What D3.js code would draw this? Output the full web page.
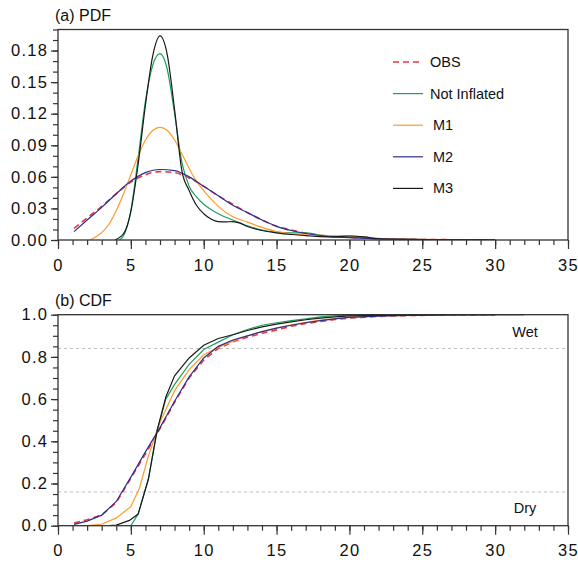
<!DOCTYPE html>
<html><head><meta charset="utf-8">
<script src="https://cdn.jsdelivr.net/npm/d3@7"></script>
<style>
body{margin:0;background:#fff;}
text{font-family:"Liberation Sans",Arial,Helvetica,sans-serif;fill:#111;}
</style></head>
<body><svg id="c" width="578" height="562"></svg>
<script>
// ---------- DATA ----------
const seriesNames = ["OBS","Not Inflated","M1","M2","M3"];
const seriesColors = ["#e8363f","#1e9e5e","#fe9a2a","#2c2f8e","#1a1a1a"];

const xTicks = [0,5,10,15,20,25,30,35];
const pdfTicks = [0,0.03,0.06,0.09,0.12,0.15,0.18];
const cdfTicks = [0,0.2,0.4,0.6,0.8,1.0];
const thresholds = [0.16,0.84];
const thresholdLabels = ["Dry","Wet"];

// PDF
const obsPdfX = [1.1,2,3,4,5,6,7,8,9,10,11,12,13,14,15,16,17,18,19,20,22,24,26,28,30];
const obsPdfY = [.011,.021,.032,.044,.055,.062,.065,.064,.059,.051,.042,.034,.026,.019,.013,.0095,.0065,.0045,.0033,.0024,.0013,.0007,.0004,.0002,.0001];
const m2PdfX  = [1.1,2,3,4,5,6,7,8,9,10,11,12,13,14,15,16,17,18,19,20,22,24,26,28,30];
const m2PdfY  = [.008,.019,.031,.044,.056,.064,.067,.066,.060,.051,.042,.033,.026,.019,.013,.009,.0062,.0043,.003,.0022,.0012,.0006,.0003,.0002,.0001];
const m1PdfX  = [2.2,2.6,3,3.5,4,4.5,5,5.5,6,6.5,7,7.5,8,8.5,9,9.5,10,10.5,11,12,13,14,15,16,17,18,19,20,21,22,24,26,28];
const m1PdfY  = [0,.003,.007,.015,.028,.044,.062,.080,.095,.104,.107,.104,.095,.082,.068,.056,.047,.039,.032,.022,.017,.012,.008,.006,.005,.0045,.004,.004,.003,.0015,.0007,.0003,.0001];
const niPdfX  = [4.2,4.5,5,5.5,6,6.5,7,7.5,8,8.5,9,9.5,10,10.5,11,12,13,14,15,16,17,18,19,20,21,22,24,26,28];
const niPdfY  = [0,.004,.028,.078,.132,.166,.177,.162,.120,.074,.051,.041,.034,.029,.025,.019,.0135,.0095,.0075,.0068,.0068,.0045,.003,.0028,.002,.001,.0005,.0002,.0001];
const m3PdfX  = [3.9,4.5,5,5.5,6,6.5,7,7.5,8,8.5,9,9.5,10,10.5,11,11.5,12,12.5,13,14,15,16,17,18,19,20,21,22,24,26,28,30];
const m3PdfY  = [0,.006,.027,.072,.128,.175,.194,.176,.124,.066,.047,.033,.025,.020,.0175,.0172,.0175,.016,.0128,.009,.0068,.0052,.0042,.0032,.003,.0038,.003,.0012,.0005,.0002,.0001,0];

// CDF
const obsCdfX = [1.1,2,3,4,5,6,7,8,9,10,11,12,13,14,15,16,17,18,19,20,22,24,26,28,30];
const obsCdfY = [.013,.028,.051,.11,.225,.34,.46,.585,.70,.785,.84,.872,.893,.912,.928,.945,.958,.968,.977,.984,.992,.996,.998,.999,1.0];
const m2CdfX  = [1.1,2,3,4,5,6,7,8,9,10,11,12,13,14,15,16,17,18,19,20,22,24,26,28,30];
const m2CdfY  = [.006,.022,.05,.115,.23,.35,.465,.59,.705,.795,.85,.88,.90,.92,.936,.95,.962,.972,.98,.987,.993,.997,.999,1.0,1.0];
const m1CdfX  = [1.5,2,3,4,5,5.6,6.2,7,8,9,10,11,12,13,14,15,16,17,18,19,20,22,24,26,28,30];
const m1CdfY  = [0,.001,.007,.037,.09,.18,.33,.49,.64,.74,.81,.845,.875,.90,.92,.937,.952,.964,.974,.982,.988,.994,.997,.999,1.0,1.0];
const niCdfX  = [5,5.5,6.2,6.8,7.4,8,9,10,11,12,13,14,15,16,17,18,19,20,21,25,30];
const niCdfY  = [0,.055,.22,.45,.60,.67,.765,.835,.87,.905,.93,.95,.962,.972,.98,.99,.995,.998,1.0,1.0,1.0];
const m3CdfX  = [3.5,4,4.9,5.5,6.2,6.8,7.4,8,9,10,11,12,13,14,15,16,17,18,19,20,22,25,28,32];
const m3CdfY  = [0,.003,.025,.055,.22,.45,.61,.71,.795,.855,.887,.905,.925,.942,.955,.966,.976,.984,.99,.994,.997,.999,1.0,1.0];

// ---------- CHART ----------
const svg = d3.select("#c");
const L = 58, R = 568;
const x = d3.scaleLinear().domain([0,35]).range([L,R]);
const panels = [
  {top:29.5, bottom:240, dom:[0,0.2], ticks:pdfTicks, minor:0.01, fmt:d3.format(".2f"), title:"(a) PDF",
   data:[[obsPdfX,obsPdfY],[niPdfX,niPdfY],[m1PdfX,m1PdfY],[m2PdfX,m2PdfY],[m3PdfX,m3PdfY]], curve:d3.curveMonotoneX},
  {top:314.7, bottom:525.7, dom:[0,1], ticks:cdfTicks, minor:0.05, fmt:d3.format(".1f"), title:"(b) CDF",
   data:[[obsCdfX,obsCdfY],[niCdfX,niCdfY],[m1CdfX,m1CdfY],[m2CdfX,m2CdfY],[m3CdfX,m3CdfY]], curve:d3.curveLinear}
];

panels.forEach((p,pi)=>{
  const y = d3.scaleLinear().domain(p.dom).range([p.bottom,p.top]);
  const g = svg.append("g");
  const clipId = "clip"+pi;
  svg.append("clipPath").attr("id",clipId).append("rect")
    .attr("x",L).attr("y",p.top-2).attr("width",R-L).attr("height",p.bottom-p.top+2);

  if(pi===1){
    thresholds.forEach((t,i)=>{
      g.append("line").attr("x1",L).attr("x2",R).attr("y1",y(t)).attr("y2",y(t))
        .attr("stroke","#bdbdbd").attr("stroke-width",1).attr("stroke-dasharray","3,3");
    });
    g.append("text").attr("x",525).attr("y",y(thresholds[1])-11).attr("text-anchor","middle")
      .style("font-size","14.5px").text(thresholdLabels[1]);
    g.append("text").attr("x",525).attr("y",y(thresholds[0])+21).attr("text-anchor","middle")
      .style("font-size","14.5px").text(thresholdLabels[0]);
  }

  const lg = g.append("g").attr("clip-path",`url(#${clipId})`);
  p.data.forEach((d,i)=>{
    const pts = d[0].map((v,k)=>[v,d[1][k]]);
    lg.append("path").datum(pts)
      .attr("fill","none").attr("stroke",seriesColors[i])
      .attr("stroke-width", i===0?1.6:1.2)
      .attr("stroke-dasharray", i===0?"6,4":null)
      .attr("d", d3.line().x(q=>x(q[0])).y(q=>y(q[1])).curve(p.curve));
  });

  const xMajor = d3.axisBottom(x).tickValues(xTicks).tickSize(9).tickSizeOuter(0).tickPadding(10).tickFormat(d3.format("d"));
  const xMinor = d3.axisBottom(x).tickValues(d3.range(0,36,1)).tickSize(5).tickSizeOuter(0).tickFormat("");
  const ax1 = g.append("g").attr("transform",`translate(0,${p.bottom})`).call(xMinor);
  const ax2 = g.append("g").attr("transform",`translate(0,${p.bottom})`).call(xMajor);
  const minorVals = d3.range(0, p.dom[1]+1e-9, p.minor);
  const yMajor = d3.axisLeft(y).tickValues(p.ticks).tickSize(7).tickSizeOuter(0).tickPadding(4).tickFormat(p.fmt);
  const yMinor = d3.axisLeft(y).tickValues(minorVals).tickSize(5).tickSizeOuter(0).tickFormat("");
  const ay1 = g.append("g").attr("transform",`translate(${L},0)`).call(yMinor);
  const ay2 = g.append("g").attr("transform",`translate(${L},0)`).call(yMajor);
  [ax1,ax2,ay1,ay2].forEach(a=>{
    a.select(".domain").remove();
    a.selectAll("line").attr("stroke","#333").attr("stroke-width",1.2);
    a.selectAll("text").style("font-size","16.5px").style("letter-spacing","1.3px").attr("fill","#111");
  });
  ay2.selectAll("text").attr("dx","1.3px");

  g.append("rect").attr("x",L).attr("y",p.top).attr("width",R-L).attr("height",p.bottom-p.top)
    .attr("fill","none").attr("stroke","#333").attr("stroke-width",1.3);

  g.append("text").attr("x",55).attr("y",p.top-9).style("font-size","16px").text(p.title);

  if(pi===0){
    const lx1 = 393, lx2 = 423;
    seriesNames.forEach((n,i)=>{
      const ly = 62 + i*31.6;
      g.append("line").attr("x1",lx1).attr("x2",lx2).attr("y1",ly).attr("y2",ly)
        .attr("stroke",seriesColors[i]).attr("stroke-width",i===0?1.4:1.2)
        .attr("stroke-dasharray", i===0?"6,4":null);
      g.append("text").attr("x", i>=2 ? 433 : 430).attr("y",ly).attr("dy","0.35em")
        .style("font-size","14.5px").text(n);
    });
  }
});
</script></body></html>
